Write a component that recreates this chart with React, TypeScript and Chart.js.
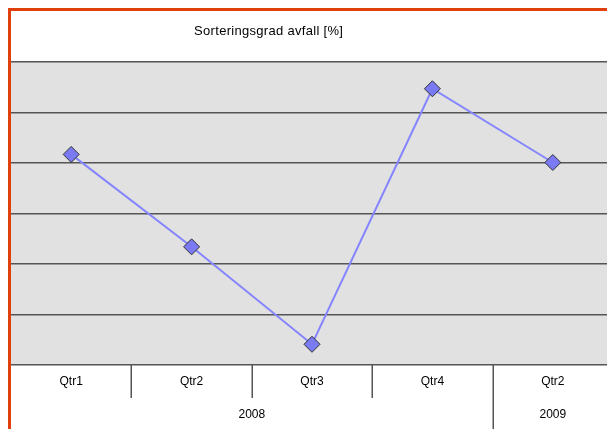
import React, { useEffect, useRef } from "react";
import { Chart, registerables } from "chart.js";

Chart.register(...registerables);

const TITLE = "Sorteringsgrad avfall [%]";
const quarters = ["Qtr1", "Qtr2", "Qtr3", "Qtr4", "Qtr2"];
const years = ["2008", "2008", "2008", "2008", "2009"];
const values = [41.7, 23.4, 4.1, 54.7, 40.1];
const yMin = 0;
const yMax = 60;
const yStep = 10;

const FONT = "Arial, 'Liberation Sans', sans-serif";
const GRID = "#555555";

const decorPlugin = {
  id: "decor",
  beforeDraw(chart: any) {
    const { ctx, chartArea } = chart;
    ctx.save();
    ctx.fillStyle = "#e1e1e1";
    ctx.fillRect(chartArea.left, chartArea.top, chartArea.right - chartArea.left, chartArea.bottom - chartArea.top);
    ctx.restore();
  },
  afterDraw(chart: any) {
    const { ctx, chartArea } = chart;
    const xs = chart.scales.x;
    const n = quarters.length;
    const cw = (chartArea.right - chartArea.left) / n;
    const bottom = chartArea.bottom;
    ctx.save();
    // title
    ctx.fillStyle = "#000";
    ctx.font = `13px ${FONT}`;
    try {
      (ctx as any).letterSpacing = "0.3px";
    } catch (e) {}
    ctx.textAlign = "center";
    ctx.textBaseline = "middle";
    ctx.fillText(TITLE, chartArea.left + (chartArea.right - chartArea.left) * 0.428, 20);
    try {
      (ctx as any).letterSpacing = "0px";
    } catch (e) {}
    // quarter labels
    ctx.font = `12px ${FONT}`;
    for (let i = 0; i < n; i++) {
      ctx.fillText(quarters[i], xs.getPixelForValue(i), bottom + 17);
    }
    // dividers
    ctx.strokeStyle = GRID;
    ctx.lineWidth = 1.5;
    for (let i = 1; i < n; i++) {
      const x = Math.round(xs.getPixelForValue(i) - cw / 2) + 0.25;
      const groupBreak = years[i] !== years[i - 1];
      ctx.beginPath();
      ctx.moveTo(x, bottom);
      ctx.lineTo(x, groupBreak ? chart.height : bottom + 33);
      ctx.stroke();
    }
    // year groups
    let start = 0;
    for (let i = 1; i <= n; i++) {
      if (i === n || years[i] !== years[start]) {
        const l = xs.getPixelForValue(start) - cw / 2;
        const r = xs.getPixelForValue(i - 1) + cw / 2;
        ctx.fillText(years[start], (l + r) / 2, bottom + 50);
        start = i;
      }
    }
    ctx.restore();
  },
};

export default function App() {
  const ref = useRef<HTMLCanvasElement | null>(null);
  useEffect(() => {
    if (!ref.current) return;
    const chart = new Chart(ref.current, {
      type: "line",
      data: {
        labels: quarters.map((q, i) => `${q} ${years[i]}`),
        datasets: [
          {
            data: values,
            borderColor: "#8585ff",
            borderWidth: 2,
            backgroundColor: "#7a7af2",
            pointBackgroundColor: "#7a7af2",
            pointBorderColor: "#333333",
            pointBorderWidth: 1,
            pointStyle: "rectRot",
            pointRadius: 8,
            tension: 0,
            fill: false,
          },
        ],
      },
      options: {
        responsive: false,
        animation: false,
        devicePixelRatio: 1,
        layout: { autoPadding: false, padding: { top: 51, left: 0, right: 0, bottom: 0 } },
        plugins: {
          legend: { display: false },
          title: { display: false },
          tooltip: { enabled: false },
        },
        scales: {
          x: {
            type: "category",
            offset: true,
            ticks: { display: false },
            grid: { display: false },
            border: { display: false },
            afterFit: (s: any) => {
              s.height = 64;
            },
          },
          y: {
            min: yMin,
            max: yMax,
            ticks: { display: false, stepSize: yStep },
            grid: { color: GRID, lineWidth: 1.5, drawTicks: false },
            border: { display: false },
            afterFit: (s: any) => {
              s.width = 0;
            },
          },
        },
      },
      plugins: [decorPlugin],
    });
    return () => chart.destroy();
  }, []);

  return (
    <div
      style={{
        position: "fixed",
        left: 8,
        top: 8,
        width: 599,
        height: 421,
        overflow: "hidden",
        boxSizing: "border-box",
        borderLeft: "3px solid #e0400c",
        borderTop: "3px solid #e0400c",
        background: "#fff",
      }}
    >
      <canvas ref={ref} width={602} height={418} style={{ display: "block" }} />
    </div>
  );
}
